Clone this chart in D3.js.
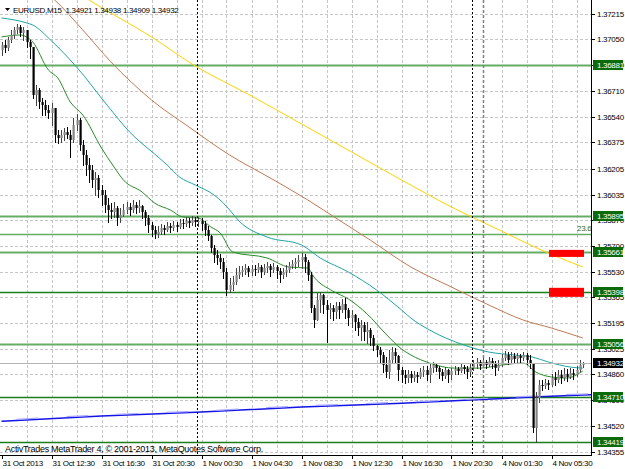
<!DOCTYPE html>
<html>
<head>
<meta charset="utf-8">
<script src="https://cdn.jsdelivr.net/npm/d3@7"></script>
<style>
  body { margin: 0; background: #fff; }
  svg { display: block; }
  text { font-family: "Liberation Sans", Arial, sans-serif; font-size: 8px; letter-spacing: -0.3px; }
</style>
</head>
<body>
<script>
// EURUSD M15 candles, 31 Oct 08:30 .. 4 Nov 06:00 (open of each bar = previous close)
const firstOpen = 1.36980;
const closes = [
  1.37013,1.36993,1.37045,1.37078,1.37111,1.37130,1.37091,1.37111,1.37032,1.37000,
  1.36686,1.36718,1.36640,1.36620,1.36588,1.36568,1.36601,1.36424,1.36404,1.36424,
  1.36444,1.36424,1.36391,1.36489,1.36522,1.36359,1.36293,1.36228,1.36195,1.36130,
  1.36143,1.36064,1.36032,1.35966,1.35934,1.35921,1.35947,1.35881,1.35901,1.35934,
  1.35953,1.35934,1.35966,1.35947,1.35960,1.35921,1.35881,1.35836,1.35803,1.35777,
  1.35790,1.35816,1.35803,1.35829,1.35816,1.35836,1.35823,1.35849,1.35842,1.35862,
  1.35849,1.35868,1.35855,1.35862,1.35842,1.35803,1.35764,1.35685,1.35639,1.35620,
  1.35594,1.35528,1.35411,1.35443,1.35463,1.35509,1.35528,1.35541,1.35554,1.35528,
  1.35548,1.35541,1.35561,1.35528,1.35554,1.35567,1.35541,1.35561,1.35535,1.35509,
  1.35528,1.35541,1.35567,1.35581,1.35594,1.35607,1.35626,1.35594,1.35509,1.35293,
  1.35214,1.35345,1.35378,1.35312,1.35280,1.35293,1.35267,1.35306,1.35280,1.35319,
  1.35280,1.35227,1.35247,1.35201,1.35162,1.35182,1.35136,1.35149,1.35097,1.35044,
  1.35018,1.34986,1.34920,1.34874,1.34953,1.35005,1.34979,1.34887,1.34855,1.34835,
  1.34861,1.34835,1.34855,1.34842,1.34874,1.34887,1.34855,1.34900,1.34920,1.34900,
  1.34874,1.34848,1.34887,1.34855,1.34881,1.34894,1.34881,1.34907,1.34894,1.34874,
  1.34900,1.34927,1.34940,1.34914,1.34940,1.34920,1.34946,1.34927,1.34900,1.34920,
  1.34966,1.34986,1.34953,1.34979,1.34959,1.34979,1.34966,1.34986,1.34953,1.34927,
  1.34508,1.34704,1.34789,1.34783,1.34802,1.34789,1.34835,1.34822,1.34855,1.34835,
  1.34861,1.34842,1.34868,1.34855,1.34887,1.34921,1.34932
];
const highs = [
  1.37032,1.37045,1.37065,1.37111,1.37130,1.37150,1.37143,1.37130,1.37111,1.37045,
  1.37000,1.36751,1.36731,1.36666,1.36653,1.36620,1.36633,1.36601,1.36457,1.36457,
  1.36470,1.36476,1.36457,1.36535,1.36561,1.36535,1.36391,1.36326,1.36274,1.36228,
  1.36182,1.36162,1.36097,1.36064,1.36012,1.35979,1.35986,1.35960,1.35947,1.35973,
  1.35986,1.35979,1.35999,1.35986,1.35999,1.35966,1.35934,1.35901,1.35855,1.35829,
  1.35829,1.35842,1.35836,1.35855,1.35849,1.35862,1.35855,1.35875,1.35875,1.35888,
  1.35881,1.35894,1.35888,1.35888,1.35881,1.35862,1.35829,1.35770,1.35705,1.35672,
  1.35646,1.35620,1.35554,1.35489,1.35502,1.35554,1.35567,1.35567,1.35581,1.35567,
  1.35574,1.35574,1.35587,1.35574,1.35581,1.35594,1.35581,1.35587,1.35574,1.35554,
  1.35554,1.35574,1.35594,1.35607,1.35620,1.35639,1.35652,1.35646,1.35607,1.35528,
  1.35312,1.35391,1.35398,1.35384,1.35345,1.35325,1.35312,1.35332,1.35332,1.35352,
  1.35358,1.35293,1.35280,1.35254,1.35227,1.35214,1.35201,1.35201,1.35162,1.35116,
  1.35051,1.35038,1.35005,1.34972,1.35018,1.35038,1.35031,1.34986,1.34907,1.34887,
  1.34887,1.34881,1.34881,1.34874,1.34900,1.34914,1.34914,1.34933,1.34940,1.34933,
  1.34914,1.34894,1.34907,1.34894,1.34900,1.34914,1.34907,1.34927,1.34920,1.34914,
  1.34927,1.34953,1.34966,1.34953,1.34966,1.34953,1.34972,1.34966,1.34946,1.34953,
  1.34992,1.35012,1.35005,1.35005,1.34999,1.34999,1.34992,1.35005,1.34999,1.34986,
  1.34933,1.34743,1.34822,1.34822,1.34829,1.34822,1.34861,1.34874,1.34887,1.34887,
  1.34900,1.34894,1.34900,1.34894,1.34914,1.34953,1.34938
];
const lows = [
  1.36947,1.36967,1.36980,1.37032,1.37058,1.37091,1.37071,1.37045,1.37000,1.36927,
  1.36666,1.36620,1.36601,1.36555,1.36555,1.36535,1.36489,1.36378,1.36372,1.36378,
  1.36391,1.36404,1.36280,1.36378,1.36457,1.36326,1.36228,1.36162,1.36117,1.36084,
  1.36032,1.36018,1.35966,1.35921,1.35855,1.35881,1.35888,1.35836,1.35855,1.35894,
  1.35914,1.35901,1.35921,1.35914,1.35921,1.35881,1.35836,1.35790,1.35764,1.35750,
  1.35757,1.35777,1.35777,1.35796,1.35790,1.35803,1.35796,1.35816,1.35816,1.35829,
  1.35823,1.35836,1.35829,1.35829,1.35803,1.35770,1.35737,1.35659,1.35594,1.35581,
  1.35554,1.35489,1.35378,1.35398,1.35411,1.35450,1.35489,1.35502,1.35515,1.35502,
  1.35509,1.35509,1.35528,1.35495,1.35515,1.35528,1.35502,1.35528,1.35489,1.35463,
  1.35489,1.35502,1.35528,1.35554,1.35554,1.35567,1.35554,1.35528,1.35476,1.35267,
  1.35169,1.35227,1.35267,1.35260,1.35071,1.35227,1.35214,1.35227,1.35227,1.35267,
  1.35227,1.35182,1.35169,1.35149,1.35116,1.35084,1.35084,1.35064,1.35051,1.35018,
  1.34979,1.34940,1.34874,1.34842,1.34835,1.34940,1.34940,1.34822,1.34809,1.34802,
  1.34809,1.34809,1.34815,1.34809,1.34835,1.34848,1.34822,1.34809,1.34874,1.34881,
  1.34835,1.34822,1.34835,1.34809,1.34829,1.34861,1.34861,1.34874,1.34868,1.34835,
  1.34848,1.34887,1.34900,1.34894,1.34907,1.34900,1.34914,1.34900,1.34855,1.34887,
  1.34914,1.34953,1.34927,1.34940,1.34933,1.34940,1.34933,1.34953,1.34927,1.34900,
  1.34482,1.34419,1.34678,1.34757,1.34770,1.34763,1.34783,1.34789,1.34809,1.34802,
  1.34822,1.34815,1.34835,1.34829,1.34848,1.34881,1.34909
];

// moving averages, read at selected bars
const greenIdx = [0,6,8,10,15,18,22,26,32,36,39,45,49,54,58,63,67,70,74,85,92,98,100,106,111,117,123,128,131,137,145,153,160,167,171,176,181,185,186];
const greenVal = [1.37065,1.37078,1.37065,1.37032,1.36849,1.36797,1.36640,1.36555,1.36339,1.36215,1.36130,1.36051,1.35979,1.35934,1.35888,1.35881,1.35823,1.35783,1.35659,1.35620,1.35561,1.35554,1.35495,1.35404,1.35352,1.35254,1.35123,1.35025,1.34986,1.34933,1.34900,1.34900,1.34920,1.34933,1.34874,1.34842,1.34835,1.34868,1.34881];
const tealIdx = [0,8,10,16,24,34,41,44,49,53,57,62,68,71,73,76,85,96,102,111,120,128,131,137,148,156,164,170,175,182,186];
const tealVal = [1.37189,1.37157,1.37143,1.37039,1.36869,1.36614,1.36444,1.36385,1.36300,1.36228,1.36149,1.36097,1.36032,1.35979,1.35934,1.35862,1.35757,1.35705,1.35620,1.35528,1.35411,1.35280,1.35227,1.35149,1.35051,1.35005,1.34986,1.34972,1.34940,1.34907,1.34900];
const brownIdx = [6,17,26,35,48,60,73,86,98,108,118,131,144,156,167,176,186];
const brownVal = [1.37471,1.37307,1.37111,1.36902,1.36653,1.36476,1.36293,1.36143,1.35999,1.35868,1.35737,1.35561,1.35430,1.35312,1.35214,1.35162,1.35097];
const yellowIdx = [13,28,48,62,80,96,112,128,144,160,172,186];
const yellowVal = [1.37516,1.37307,1.37065,1.36875,1.36679,1.36496,1.36313,1.36130,1.35953,1.35796,1.35679,1.35561];
const blueIdx = [0,32,64,96,128,150,170,186,189];
const blueVal = [1.34553,1.34587,1.34613,1.34646,1.34671,1.34691,1.34711,1.34724,1.34726];

// horizontal levels
const levels = [1.36881, 1.35895, 1.35661, 1.35398, 1.35056, 1.34710, 1.34419];
const levelKind = ['light', 'light', 'light', 'dark', 'light', 'dark', 'dark'];
const fibPrice = 1.35777;
const fibText = '23.6';
const bidPrice = 1.34932;

// red zones: [from bar, to bar, top price, bottom price]
const zones = [[175.2, 186.4, 1.35673, 1.35627], [175.2, 186.4, 1.35425, 1.35366]];

const priceTicks = [1.37215,1.37050,1.36880,1.36710,1.36540,1.36375,1.36205,1.36035,1.35870,1.35700,1.35530,1.35365,1.35195,1.35025,1.34860,1.34690,1.34520,1.34355];
const timeIdx = [0,16,32,48,64,80,96,112,128,144,160,176];
const timeLabels = ['31 Oct 2013','31 Oct 12:30','31 Oct 16:30','31 Oct 20:30','1 Nov 00:30','1 Nov 04:30','1 Nov 08:30','1 Nov 12:30','1 Nov 16:30','1 Nov 20:30','4 Nov 01:30','4 Nov 05:30'];
const daySeparators = [62.5, 150.5];
const header = 'EURUSD,M15  1.34921 1.34938 1.34909 1.34932';
const footer = 'ActivTrades MetaTrader 4, \u00a9 2001-2013, MetaQuotes Software Corp.';

const width = 625, height = 469;
const plotRight = 591, plotBottom = 455;

const svg = d3.select('body').append('svg')
    .attr('width', width)
    .attr('height', height);
svg.append('rect').attr('width', width).attr('height', height).attr('fill', '#fff');

svg.append('clipPath').attr('id', 'plot')
    .append('rect').attr('x', 0).attr('y', 0).attr('width', plotRight).attr('height', plotBottom);

const x = d3.scaleLinear().domain([0, 186]).range([1.5, 582.75]);
const y = d3.scaleLinear().domain([1.34355, 1.37215]).range([451.5, 14]);
const px = v => Math.round(x(v)) + 0.5;
const py = v => Math.round(y(v)) + 0.5;

const plot = svg.append('g').attr('clip-path', 'url(#plot)');

// grid
plot.selectAll('.hgrid').data(priceTicks).join('line')
    .attr('x1', 0).attr('x2', plotRight)
    .attr('y1', d => py(d)).attr('y2', d => py(d))
    .attr('stroke', '#c6c6c6').attr('stroke-dasharray', '3,2');
plot.selectAll('.vgrid').data(d3.range(8, 187, 8).filter(b => b !== 152)).join('line')
    .attr('x1', d => px(d)).attr('x2', d => px(d))
    .attr('y1', 0).attr('y2', plotBottom)
    .attr('stroke', '#c6c6c6').attr('stroke-dasharray', '3,2');

// horizontal level lines
levels.forEach((p, k) => {
    const light = levelKind[k] === 'light';
    plot.append('line')
        .attr('x1', 0).attr('x2', plotRight)
        .attr('y1', py(p)).attr('y2', py(p))
        .attr('stroke', light ? '#64ad64' : '#1b801b')
        .attr('stroke-width', light ? 2 : 1.5);
});
plot.append('line')
    .attr('x1', 0).attr('x2', plotRight)
    .attr('y1', py(fibPrice)).attr('y2', py(fibPrice))
    .attr('stroke', '#64ad64').attr('stroke-width', 1.5);

// moving averages
const maLine = d3.line().x(d => x(d[0])).y(d => y(d[1])).curve(d3.curveMonotoneX);
[[yellowIdx, yellowVal, '#ffd200'], [brownIdx, brownVal, '#c07a55'],
 [tealIdx, tealVal, '#22a3a3'], [greenIdx, greenVal, '#2a8a2a']].forEach(([idx, val, col]) => {
    plot.append('path')
        .datum(d3.zip(idx, val))
        .attr('fill', 'none')
        .attr('stroke', col)
        .attr('stroke-width', 1)
        .attr('d', maLine);
});
plot.append('path')
    .datum(d3.zip(blueIdx, blueVal))
    .attr('fill', 'none').attr('stroke', '#1414e6').attr('stroke-width', 1.5)
    .attr('d', maLine);
plot.append('path')
    .datum(d3.zip(blueIdx, blueVal))
    .attr('fill', 'none').attr('stroke', '#a8a8ff').attr('stroke-width', 1.2)
    .attr('stroke-dasharray', '22,28').attr('stroke-dashoffset', -15)
    .attr('transform', 'translate(0,-1)')
    .attr('d', maLine);

// candles
const bars = closes.map((c, i) => {
    const o = i === 0 ? firstOpen : closes[i - 1];
    return { i, o, c, h: Math.max(highs[i], o, c), l: Math.min(lows[i], o, c) };
});
plot.selectAll('.wick').data(bars).join('line')
    .attr('x1', d => px(d.i)).attr('x2', d => px(d.i))
    .attr('y1', d => Math.round(y(d.h))).attr('y2', d => Math.round(y(d.l)) + 1)
    .attr('stroke', d => d.c >= d.o ? '#444' : '#000');
plot.selectAll('.body').data(bars).join('rect')
    .attr('x', d => Math.round(x(d.i)) - 0.5)
    .attr('width', 2.2)
    .attr('y', d => Math.round(y(Math.max(d.o, d.c))))
    .attr('height', d => Math.max(1, Math.round(y(Math.min(d.o, d.c))) - Math.round(y(Math.max(d.o, d.c)))))
    .attr('fill', d => d.c >= d.o ? '#858585' : '#000');

// red zones
zones.forEach(z => {
    plot.append('rect')
        .attr('x', x(z[0])).attr('width', x(z[1]) - x(z[0]))
        .attr('y', y(z[2])).attr('height', y(z[3]) - y(z[2]))
        .attr('fill', '#ff0000');
});

// separators
daySeparators.forEach(b => {
    plot.append('line')
        .attr('x1', px(b)).attr('x2', px(b))
        .attr('y1', 0).attr('y2', plotBottom)
        .attr('stroke', '#000').attr('stroke-dasharray', '2,2');
});
plot.append('line')
    .attr('x1', px(154)).attr('x2', px(154))
    .attr('y1', 0).attr('y2', plotBottom)
    .attr('stroke', '#808080').attr('stroke-width', 1.5).attr('stroke-dasharray', '3,2');

// bid line
plot.append('line')
    .attr('x1', 0).attr('x2', plotRight)
    .attr('y1', py(bidPrice)).attr('y2', py(bidPrice))
    .attr('stroke', '#b4b4b4');

// texts inside chart
svg.append('text').attr('x', 577).attr('y', y(fibPrice) - 2.5)
    .attr('fill', '#2a6e2a').text(fibText);
svg.append('path').attr('d', 'M5,8 L10,8 L7.5,11 Z').attr('fill', '#000');
svg.append('text').attr('x', 13).attr('y', 13).attr('fill', '#000')
    .attr('xml:space', 'preserve').style('white-space', 'pre').text(header);
svg.append('text').attr('x', 5).attr('y', 452).attr('fill', '#000')
    .style('font-size', '9px').text(footer);

// frame
svg.append('line').attr('x1', plotRight + 0.5).attr('x2', plotRight + 0.5)
    .attr('y1', 0).attr('y2', plotBottom + 1).attr('stroke', '#000');
svg.append('line').attr('x1', 0).attr('x2', plotRight + 1)
    .attr('y1', plotBottom + 0.5).attr('y2', plotBottom + 0.5).attr('stroke', '#000');

// price axis
svg.selectAll('.ptick').data(priceTicks).join('line')
    .attr('x1', plotRight).attr('x2', plotRight + 4)
    .attr('y1', d => py(d)).attr('y2', d => py(d))
    .attr('stroke', '#000');
svg.selectAll('.plabel').data(priceTicks).join('text')
    .attr('x', 597).attr('y', d => y(d) + 3)
    .attr('fill', '#000')
    .text(d => d.toFixed(5));

levels.forEach(p => {
    svg.append('rect').attr('x', 593).attr('y', Math.round(y(p)) - 5)
        .attr('width', 30).attr('height', 10).attr('fill', '#0b6b0b');
    svg.append('text').attr('x', 597).attr('y', y(p) + 3)
        .attr('fill', '#fff').text(p.toFixed(5));
});
svg.append('rect').attr('x', 593).attr('y', Math.round(y(bidPrice)) - 5)
    .attr('width', 30).attr('height', 10).attr('fill', '#000');
svg.append('text').attr('x', 597).attr('y', y(bidPrice) + 3)
    .attr('fill', '#fff').text(bidPrice.toFixed(5));

// time axis
svg.selectAll('.ttick').data(timeIdx).join('line')
    .attr('x1', d => px(d)).attr('x2', d => px(d))
    .attr('y1', plotBottom).attr('y2', plotBottom + 4)
    .attr('stroke', '#000');
svg.selectAll('.tlabel').data(timeIdx).join('text')
    .attr('x', d => x(d) + 1).attr('y', 466)
    .attr('fill', '#000')
    .text((d, k) => timeLabels[k]);
</script>
</body>
</html>
